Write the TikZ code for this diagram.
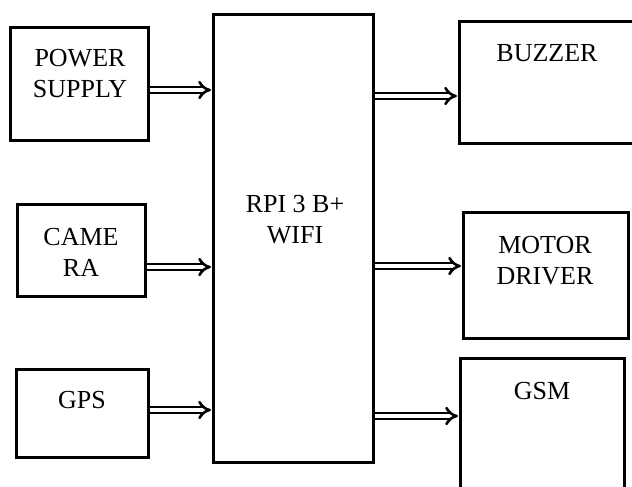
\documentclass[tikz,border=0pt]{standalone}
\usepackage{fontspec}
\setmainfont{Liberation Serif}
\usetikzlibrary{arrows.meta}
\begin{document}
\begin{tikzpicture}[x=1pt,y=-1pt,
  blk/.style={draw=black, line width=3pt, minimum width=#1, inner sep=0pt},
  txt/.style={align=center, inner sep=0pt, font=\fontsize{26}{31}\selectfont},
  dbl/.style={double=white, double distance=3.4pt, line width=2.6pt, -{Implies[length=6pt]}, shorten >=0.5pt}
]
\useasboundingbox (0,0) rectangle (632,487);
\clip (0,0) rectangle (632,487);
% boxes
\node[blk=138pt, minimum height=112pt] (pw) at (79,84) {};
\node[blk=160pt, minimum height=447pt] (rpi) at (293,238.5) {};
\node[blk=180pt, minimum height=121pt] (bz) at (549,82.5) {};
\node[blk=128pt, minimum height=92pt] (cam) at (81,250) {};
\node[blk=165pt, minimum height=126pt] (md) at (545.5,275) {};
\node[blk=132pt, minimum height=88pt] (gps) at (82,413) {};
\node[blk=164pt, minimum height=140pt] (gsm) at (542,428) {};
% texts
\node[txt] (tpw) at (80,74) {POWER\\SUPPLY};
\node[txt] (trpi) at (295,220) {RPI 3 B+\\WIFI};
\node[txt] (tbz) at (547,53) {BUZZER};
\node[txt] (tcam) at (81,252) {CAME\\RA};
\node[txt] (tmd) at (545,261) {MOTOR\\DRIVER};
\node[txt] (tgps) at (82,400) {GPS};
\node[txt] (tgsm) at (542,391) {GSM};
% arrows
\draw[dbl] (pw.east |- 0,90) -- (rpi.west |- 0,90);
\draw[dbl] (cam.east |- 0,267) -- (rpi.west |- 0,267);
\draw[dbl] (gps.east |- 0,410) -- (rpi.west |- 0,410);
\draw[dbl] (rpi.east |- 0,96) -- (bz.west |- 0,96);
\draw[dbl] (rpi.east |- 0,266) -- (md.west |- 0,266);
\draw[dbl] (rpi.east |- 0,416) -- (gsm.west |- 0,416);
\end{tikzpicture}
\end{document}
